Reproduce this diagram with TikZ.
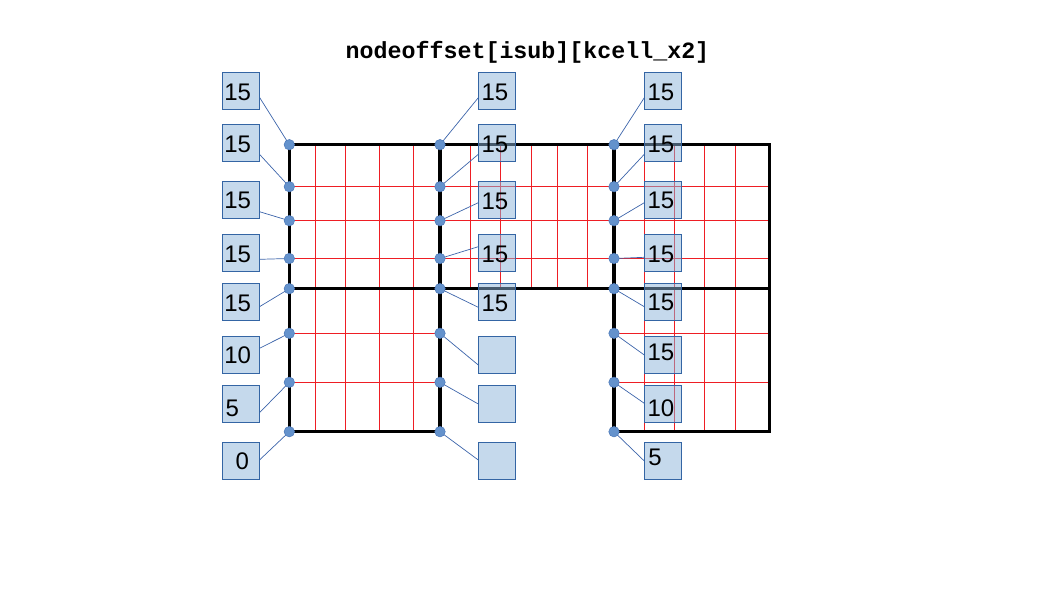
\documentclass[tikz,border=0pt]{standalone}
\usepackage{fontspec}
\setmainfont{Liberation Sans}
\newfontfamily\monob{Liberation Mono}
\usetikzlibrary{calc}
\definecolor{gridred}{RGB}{238,30,36}
\definecolor{boxfill}{RGB}{139,179,217}
\definecolor{boxline}{RGB}{52,101,164}
\definecolor{dotfill}{RGB}{100,146,204}
\definecolor{dotline}{RGB}{75,120,185}
\definecolor{connc}{RGB}{60,100,170}
\pgfdeclarelayer{gridlayer}
\pgfdeclarelayer{connlayer}
\pgfsetlayers{gridlayer,connlayer,main}
\newcommand\mylbl[4]{\node[lbl,anchor=base west] at ($(#1.west)+(#2,#3)$) {#4};}
\begin{document}
\begin{tikzpicture}[x=1pt,y=-1pt,
  cbox/.style={draw=boxline,line width=1pt,fill=boxfill,fill opacity=0.5,draw opacity=1,
    minimum width=37pt,minimum height=37pt,inner sep=0pt},
  lbl/.style={inner sep=0pt,font=\fontsize{24}{28}\selectfont},
  dot/.style={circle,fill=dotfill,draw=dotline,line width=0.5pt,minimum size=10.5pt,inner sep=0pt},
  conn/.style={draw=connc,line width=0.7pt},
  thick grid/.style={line width=3.5pt,black},
  thin grid/.style={line width=1pt,gridred}]
\useasboundingbox (0,0) rectangle (1058,595);

% title
\node[anchor=base,inner sep=0pt] (title) at (527.5,58)
  {\fontsize{23.3}{28}\selectfont\monob\bfseries nodeoffset[isub][kcell\_x2]};

% dots
\foreach \c/\x in {L/289.3,M/440,R/614}{
  \foreach \r/\y in {1/144.7,2/186.7,3/220.7,4/258.5,5/288.7,6/333.3,7/382.3,8/431.7}{
    \node[dot] (d\c\r) at (\x,\y) {};
  }
}

% boxes
\foreach \c/\x in {L/240.5,M/497.3,R/663.3}{
  \foreach \r/\y in {1/90.9,2/143.3,3/200.3,4/253.3,5/302.3,6/355.3,7/404.3,8/460.7}{
    \node[cbox] (\c\r) at (\x,\y) {};
  }
}

% labels
\mylbl{L1}{2.6}{9.6}{15}
\mylbl{L2}{2.6}{9}{15}
\mylbl{L3}{2.6}{8.5}{15}
\mylbl{L4}{2.6}{9.4}{15}
\mylbl{L5}{2.6}{8.7}{15}
\mylbl{L6}{2.6}{8.3}{10}
\mylbl{L7}{3.8}{12.4}{5}
\mylbl{L8}{13.8}{8.8}{0}
\mylbl{M1}{3}{9.6}{15}
\mylbl{M2}{3}{9}{15}
\mylbl{M3}{3}{8.7}{15}
\mylbl{M4}{3}{9.4}{15}
\mylbl{M5}{3}{8.7}{15}
\mylbl{R1}{3}{9.6}{15}
\mylbl{R2}{3}{9}{15}
\mylbl{R3}{3}{8.5}{15}
\mylbl{R4}{3}{9.4}{15}
\mylbl{R5}{3}{8.5}{15}
\mylbl{R6}{3}{4.7}{15}
\mylbl{R7}{3}{12.4}{10}
\mylbl{R8}{3.8}{4.4}{5}

% grid
\begin{pgfonlayer}{gridlayer}
  % red verticals
  \foreach \x in {315.3,345.3,379.7,413.7,644.3,674,704.7,735.3}
    \draw[thin grid] (\x,144.7) -- (\x,431.7);
  \foreach \x in {470.3,500.3,531.3,557.7,587.3}
    \draw[thin grid] (\x,144.7) -- (\x,288.7);
  % red horizontals
  \foreach \y in {186.7,220.7,258.5}
    \draw[thin grid] (289.3,\y) -- (769.3,\y);
  \foreach \y in {333.3,382.3}{
    \draw[thin grid] (289.3,\y) -- (440,\y);
    \draw[thin grid] (614,\y) -- (769.3,\y);
  }
  % black frame
  \draw[thick grid] (289.3,144.7) -- (769.3,144.7);
  \draw[thick grid] (289.3,288.7) -- (769.3,288.7);
  \draw[thick grid] (289.3,431.7) -- (440,431.7);
  \draw[thick grid] (614,431.7) -- (769.3,431.7);
  \foreach \x in {289.3,440,614,769.3}
    \draw[thick grid] (\x,143) -- (\x,433.4);
\end{pgfonlayer}

% connectors
\begin{pgfonlayer}{connlayer}
  \foreach \r/\o in {1/6.4,2/11,3/11.4,4/6,5/4.4,6/-7,7/8.4,8/-0.7}
    \draw[conn] (dL\r.center) -- ($(L\r.east)+(0,\o)$);
  \foreach \r/\o in {1/6.8,2/11,3/2.4,4/-6.6,5/5,6/9.7,7/-0.3,8/-0.7}
    \draw[conn] (dM\r.center) -- ($(M\r.west)+(0,\o)$);
  \foreach \r/\o in {1/6.8,2/11,3/2.4,4/4,5/4.4,6/-0.3,7/-1,8/0.3}
    \draw[conn] (dR\r.center) -- ($(R\r.west)+(0,\o)$);
\end{pgfonlayer}
\end{tikzpicture}
\end{document}
